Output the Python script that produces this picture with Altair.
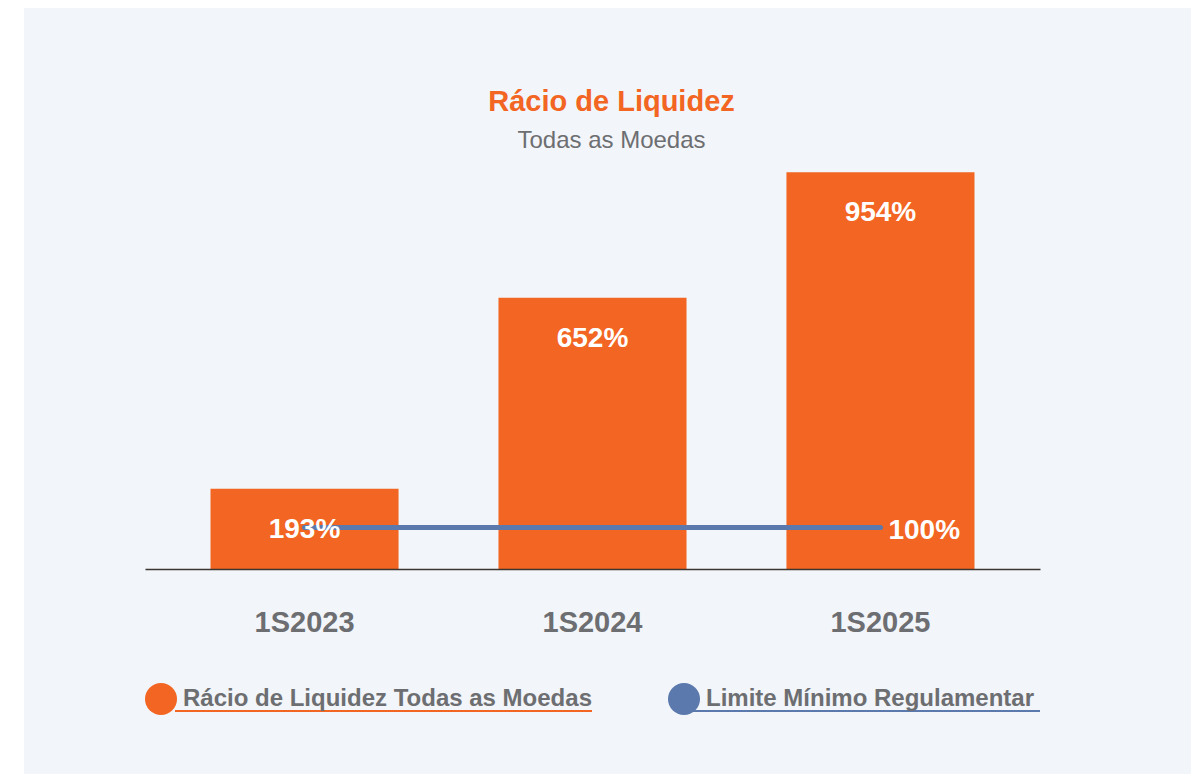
import altair as alt
import pandas as pd

periods = ["1S2023", "1S2024", "1S2025"]
ratio = [193, 652, 954]
limit = [100, 100, 100]
labels = ["193%", "652%", "954%"]
series_names = ["Rácio de Liquidez Todas as Moedas", "Limite Mínimo Regulamentar"]

ORANGE = "#f26522"
BLUE = "#5b79ad"
GRAY = "#6d6e71"
BG = "#f2f5f9"
FONT = "Liberation Sans, Arial, Helvetica, sans-serif"

bars_df = pd.DataFrame({"periodo": periods, "valor": ratio, "rotulo": labels,
                        "serie": [series_names[0]] * 3})
line_df = pd.DataFrame({"periodo": periods, "valor": limit})
limit_label_df = pd.DataFrame({"periodo": [periods[-1]], "valor": [limit[-1]],
                               "rotulo": [f"{limit[-1]}%"]})
one_row = pd.DataFrame({"k": [0]})

x_enc = alt.X("periodo:N", sort=periods,
              scale=alt.Scale(paddingInner=0.347, paddingOuter=0.2275),
              axis=alt.Axis(title=None, labelAngle=0, ticks=False, labelPadding=39,
                            labelFontSize=29, labelFontWeight="bold", labelColor=GRAY,
                            labelFont=FONT, domainColor="#3d3630", domainWidth=1.5,
                            zindex=1))
y_scale = alt.Scale(domain=[0, 1000])

panel = alt.Chart(one_row).mark_rect(color=BG).encode(
    x=alt.value(-121), x2=alt.value(1046), y=alt.value(-150), y2=alt.value(625))

bars = alt.Chart(bars_df).mark_bar(color=ORANGE).encode(
    x=x_enc,
    y=alt.Y("valor:Q", scale=y_scale, axis=None),
    color=alt.Color("serie:N",
                    scale=alt.Scale(domain=series_names, range=[ORANGE, BLUE]),
                    legend=alt.Legend(title=None, orient="none", legendX=-1, legendY=529,
                                      direction="horizontal", symbolType="circle",
                                      symbolSize=1024, symbolOpacity=1,
                                      labelFont=FONT, labelFontSize=24,
                                      labelFontWeight="bold", labelColor=GRAY,
                                      labelOffset=5, columnPadding=75,
                                      labelLimit=600)),
)

line = alt.Chart(line_df).mark_line(color=BLUE, strokeWidth=5, strokeCap="round").encode(
    x=alt.X("periodo:N", sort=periods), y=alt.Y("valor:Q", scale=y_scale))

bar_text = alt.Chart(bars_df).mark_text(
    color="white", fontSize=28, font=FONT, fontWeight="bold", dy=41, baseline="middle"
).encode(x=alt.X("periodo:N", sort=periods), y=alt.Y("valor:Q", scale=y_scale),
         text="rotulo:N")

limit_text = alt.Chart(limit_label_df).mark_text(
    color="white", fontSize=28, font=FONT, fontWeight="bold", align="left",
    baseline="middle", dx=8, dy=4
).encode(x=alt.X("periodo:N", sort=periods), y=alt.Y("valor:Q", scale=y_scale),
         text="rotulo:N")

underline1 = alt.Chart(one_row).mark_rule(color=ORANGE, strokeWidth=2).encode(
    x=alt.value(30), x2=alt.value(447), y=alt.value(558))
underline2 = alt.Chart(one_row).mark_rule(color=BLUE, strokeWidth=2).encode(
    x=alt.value(545), x2=alt.value(895), y=alt.value(558))

chart = alt.layer(panel, bars, line, bar_text, limit_text, underline1, underline2).properties(
    width=895, height=416,
    autosize=alt.AutoSizeParams(type="none"),
    padding={"left": 137, "top": 145, "right": 151, "bottom": 205},
    background="white",
    title=alt.TitleParams(text="Rácio de Liquidez", subtitle="Todas as Moedas",
                          anchor="middle", dx=19, dy=150, offset=0,
                          font=FONT, fontSize=29, fontWeight="bold", color=ORANGE,
                          subtitleFont=FONT, subtitleFontSize=24, subtitleColor=GRAY,
                          subtitlePadding=12),
).configure_view(stroke=None)

chart.save("out.html", embed_options={"renderer": "svg", "actions": False})
